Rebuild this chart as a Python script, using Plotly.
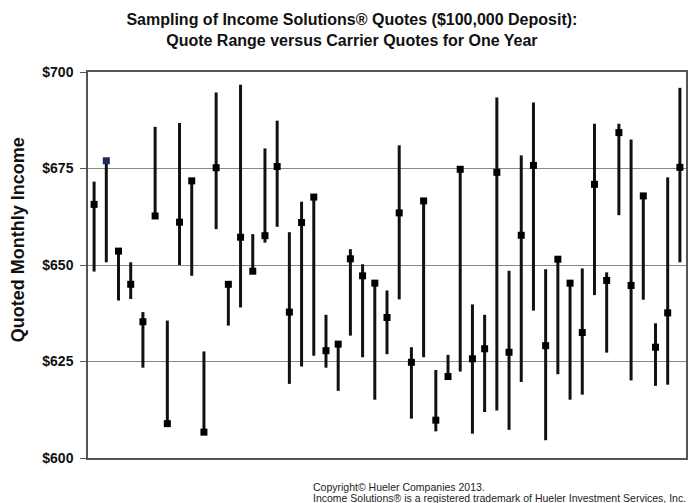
import plotly.graph_objects as go

# Carrier index (1..49), quote range low/high and carrier quote
carriers = list(range(1, 50))
range_low = [648.3, 650.7, 640.8, 641.2, 623.4, 662.7, 608.9, 650.0, 647.2, 606.7,
             659.3, 634.3, 639.0, 648.4, 655.8, 659.9, 619.2, 623.7, 626.5, 623.4,
             617.4, 631.7, 626.1, 615.1, 626.9, 641.1, 610.2, 626.1, 606.9, 621.1,
             622.4, 606.3, 611.9, 612.3, 607.3, 619.7, 638.2, 604.6, 621.7, 615.1,
             616.4, 642.2, 627.3, 662.9, 620.1, 641.0, 618.7, 619.0, 650.7]
range_high = [671.6, 677.0, 653.6, 650.7, 637.8, 685.8, 635.6, 686.8, 671.8, 627.6,
              694.7, 645.0, 696.7, 658.0, 680.2, 687.4, 658.5, 666.4, 667.6, 637.1,
              629.5, 654.1, 650.2, 645.3, 643.4, 681.0, 628.7, 666.6, 622.8, 626.7,
              674.8, 639.8, 637.1, 693.4, 648.5, 678.4, 692.1, 648.9, 651.5, 645.3,
              649.1, 686.6, 648.1, 686.6, 682.5, 667.9, 634.9, 672.7, 695.9]
quotes = [665.7, 677.0, 653.6, 645.0, 635.3, 662.7, 608.9, 661.1, 671.8, 606.7,
          675.2, 645.0, 657.2, 648.4, 657.6, 675.5, 637.8, 661.0, 667.6, 627.8,
          629.5, 651.6, 647.2, 645.3, 636.4, 663.5, 624.8, 666.6, 609.8, 621.1,
          674.8, 625.7, 628.3, 674.0, 627.4, 657.7, 675.8, 629.1, 651.5, 645.3,
          632.5, 670.9, 646.0, 684.3, 644.7, 667.9, 628.7, 637.6, 675.3]
tick_vals = [600, 625, 650, 675, 700]
tick_text = ["$600", "$625", "$650", "$675", "$700"]

line_x, line_y = [], []
for c, lo, hi in zip(carriers, range_low, range_high):
    line_x += [c, c, None]
    line_y += [lo, hi, None]

marker_colors = ["#000000"] * len(carriers)
marker_colors[1] = "#1c2b58"

fig = go.Figure()
fig.add_trace(go.Scatter(x=line_x, y=line_y, mode="lines",
                         line=dict(color="#111111", width=3),
                         hoverinfo="skip", showlegend=False))
fig.add_trace(go.Scatter(x=carriers, y=quotes, mode="markers",
                         marker=dict(symbol="square", size=7, color=marker_colors),
                         showlegend=False))

fig.update_layout(
    width=690, height=503,
    margin=dict(l=88, r=2, t=72, b=45),
    paper_bgcolor="white", plot_bgcolor="white",
    font=dict(family="Arial, Liberation Sans, sans-serif", color="#111111"),
    title=dict(
        text="<b>Sampling of Income Solutions® Quotes ($100,000 Deposit):<br>Quote Range versus Carrier Quotes for One Year</b>",
        x=0.51, xanchor="center", y=0.95, yanchor="top",
        font=dict(size=16, color="#111111"),
    ),
    xaxis=dict(range=[0.5, 49.5], showticklabels=False, showgrid=False,
               zeroline=False, showline=True, linecolor="#555555", linewidth=1.5,
               mirror=True, ticks=""),
    yaxis=dict(range=[600, 700], tickvals=tick_vals,
               ticktext=["<b>%s</b>" % t for t in tick_text],
               tickfont=dict(size=14, color="#111111"),
               showgrid=True, gridcolor="#888888", gridwidth=1,
               zeroline=False, showline=True, linecolor="#555555", linewidth=1.5,
               mirror=True, ticks="outside", ticklen=6, tickcolor="#555555",
               ticklabelstandoff=4),
    annotations=[
        dict(text="<b>Quoted Monthly Income</b>", xref="paper", yref="paper",
             x=-(88 - 18) / 600, y=(458 - 240) / 386, xanchor="center", yanchor="middle",
             textangle=-90, showarrow=False, font=dict(size=18, color="#111111")),
        dict(text="Copyright© Hueler Companies 2013.",
             xref="paper", yref="paper", x=(312 - 88) / 600, y=0, xanchor="left", yanchor="middle",
             yshift=-29, showarrow=False, align="left",
             font=dict(size=10.5, color="#222222")),
        dict(text="Income Solutions® is a registered trademark of Hueler Investment Services, Inc.",
             xref="paper", yref="paper", x=(312 - 88) / 600, y=0, xanchor="left", yanchor="middle",
             yshift=-40, showarrow=False, align="left",
             font=dict(size=10.5, color="#222222")),
    ],
)

fig.write_html("out.html", config={"displayModeBar": False},
               post_script="document.body.style.margin='0';document.body.style.padding='0';")
